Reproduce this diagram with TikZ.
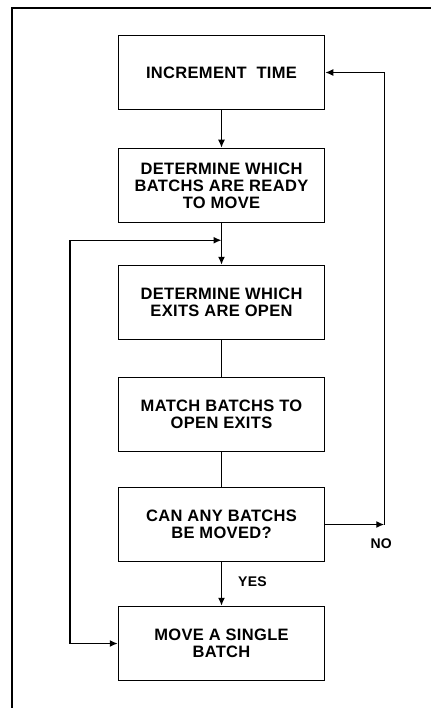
\documentclass[tikz,border=0pt]{standalone}
\usepackage{fontspec}
\setmainfont{Liberation Sans}
\newfontfamily\boxfont[LetterSpace=2]{Liberation Sans Bold}
\usetikzlibrary{positioning, arrows.meta}

\begin{document}
\begin{tikzpicture}[
            x=1pt, y=1pt,
            node distance=38pt,
            block/.style={rectangle, draw, line width=1.5pt, minimum height=74pt, minimum width=206pt, font=\boxfont\fontsize{16.5}{17}\selectfont, align=center},
            flow/.style={line width=1.4pt},
            tip/.style={flow, -{Latex[length=8pt,width=7pt]}},
            twotip/.style={flow, {Latex[length=8pt,width=7pt]}-{Latex[length=8pt,width=7pt]}},
            lbl/.style={font=\boxfont\fontsize{14}{15}\selectfont, inner sep=0pt}
        ]
            \useasboundingbox (0,0) rectangle (431,-708);
            % frame
            \draw[line width=1.5pt] (12,-708) -- (12,-8) -- (431,-8);

            \node[block] (incr) at (221.5,-72.5) {INCREMENT\ \ TIME};
            \node[block, below=37.5pt of incr] (ready) {DETERMINE WHICH\\BATCHS ARE READY\\TO MOVE};
            \node[block, below=41.5pt of ready] (exits) {DETERMINE WHICH\\EXITS ARE OPEN};
            \node[block, below=36.5pt of exits] (match) {MATCH BATCHS TO\\OPEN EXITS};
            \node[block, below=34.5pt of match] (can) {CAN ANY BATCHS\\BE MOVED?};
            \node[block, below=43.5pt of can] (move) {MOVE A SINGLE\\BATCH};

            \coordinate (join) at ([yshift=-17pt]ready.south);
            \coordinate (back) at ([xshift=-151.5pt]join);
            \coordinate (nocorner) at ([xshift=59pt]can.east);

            \draw[tip] (incr.south) -- (ready.north);
            \draw[flow] (ready.south) -- (join);
            \draw[tip] (join) -- (exits.north);
            \draw[flow] (exits.south) -- (match.north);
            \draw[flow] (match.south) -- (can.north);
            \draw[tip] (can.south) -- (move.north) node[midway, lbl, right=16pt, yshift=2pt] {YES};
            \draw[tip] (can.east) -- (nocorner) node[lbl, below=14pt, xshift=-3pt] {NO};
            \draw[tip] (nocorner) |- (incr.east);
            \draw[twotip] (join) -- (back) |- (move.west);
        \end{tikzpicture}
\end{document}
